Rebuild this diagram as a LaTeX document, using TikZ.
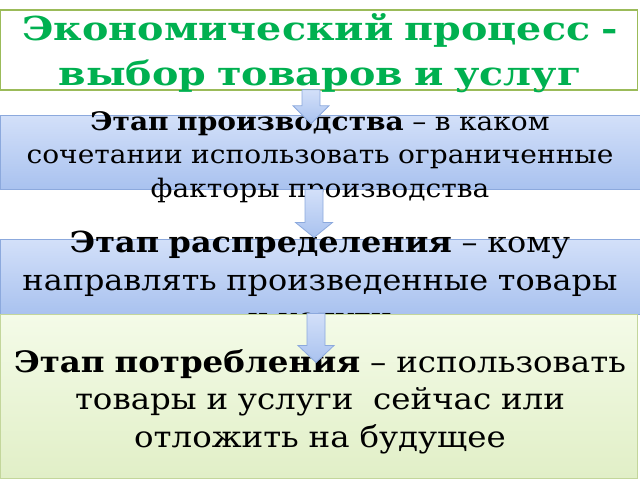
\documentclass[tikz,border=0pt]{standalone}
\usepackage{fontspec}
\setmainfont{DejaVu Serif}[FakeStretch=1.1]
\newfontfamily\titlefont{DejaVu Serif}[FakeStretch=1.2]
\definecolor{titlegreen}{HTML}{00B050}
\definecolor{titleline}{HTML}{9BBB59}
\definecolor{bluetop}{HTML}{D3E0F9}
\definecolor{bluebot}{HTML}{A9C2EF}
\definecolor{blueline}{HTML}{8CA9DD}
\definecolor{greentop}{HTML}{F4FBE8}
\definecolor{greenbot}{HTML}{E1EFC7}
\definecolor{greenline}{HTML}{C3D69B}
\usetikzlibrary{calc}
\tikzset{
  titlebox/.style={draw=titleline, line width=1.5pt, fill=white, inner sep=0pt},
  stagebox/.style={draw=blueline, line width=1pt, top color=bluetop, bottom color=bluebot, inner sep=0pt},
  lastbox/.style={draw=greenline, line width=1pt, top color=greentop, bottom color=greenbot, inner sep=0pt},
  stagetext/.style={text width=640pt, align=center, inner sep=0pt, anchor=base},
  stagearrow/.style={draw=blueline, line width=0.8pt, top color=bluetop, bottom color=bluebot, line join=miter}
}

\begin{document}
\begin{tikzpicture}[x=1pt,y=-1pt]
\useasboundingbox (0,0) rectangle (640,480);
% title
\node[titlebox, minimum width=637pt, minimum height=80pt] (title) at (319,50) {};
\node[stagetext, text=titlegreen, font=\titlefont\fontsize{33}{45}\selectfont\bfseries] (titletext) at (320,40)
  {Экономический процесс -\\ выбор товаров и услуг};
% production
\node[stagebox, minimum width=640pt, minimum height=74pt] (prod) at (320,152) {};
\node[stagetext, font=\fontsize{25.5}{33.5}\selectfont] (prodtext) at (320,130)
  {\textbf{Этап производства} – в каком\\ сочетании использовать ограниченные\\ факторы производства};
\coordinate (a1) at ($(title.south)+(-8,-1)$);
\draw[stagearrow] (a1) +(-9,0) -- +(9,0) -- +(9,16) -- +(18,16) -- +(0,34) -- +(-18,16) -- +(-9,16) -- cycle;
% distribution
\node[stagebox, minimum width=640pt, minimum height=75pt] (distr) at (320,276.5) {};
\node[stagetext, font=\fontsize{29}{38}\selectfont] (distrtext) at (320,252)
  {\textbf{Этап распределения} – кому\\ направлять произведенные товары\\ и услуги};
\coordinate (a2) at ($(prod.south)+(-6,0)$);
\draw[stagearrow] (a2) +(-9,0) -- +(9,0) -- +(9,33) -- +(18.5,33) -- +(0,48) -- +(-18.5,33) -- +(-9,33) -- cycle;
% consumption
\node[lastbox, minimum width=637pt, minimum height=164pt] (cons) at (319,396) {};
\node[stagetext, font=\fontsize{29.5}{37.5}\selectfont] (constext) at (320,372)
  {\textbf{Этап потребления} – использовать\\ товары и услуги\ \ сейчас или\\ отложить на будущее};
\coordinate (a3) at ($(cons.north)+(-3,0)$);
\draw[stagearrow] (a3) +(-9,0) -- +(9,0) -- +(9,32) -- +(18,32) -- +(0,49) -- +(-18,32) -- +(-9,32) -- cycle;
\end{tikzpicture}
\end{document}
